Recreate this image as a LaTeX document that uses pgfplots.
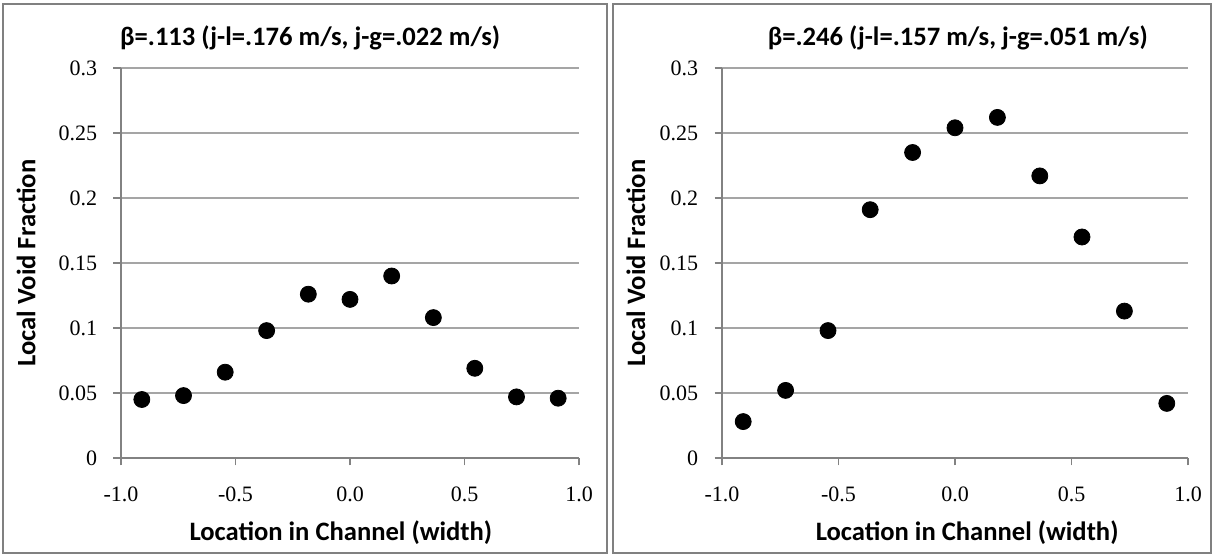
\documentclass[border=0pt]{standalone}
\usepackage{fontspec}
\setmainfont{Carlito}
\newfontfamily\tickfont{Liberation Serif}
\usepackage{pgfplots}
\pgfplotsset{compat=1.18}

\definecolor{gridgray}{RGB}{165,165,165}
\definecolor{axgray}{RGB}{130,130,130}
\definecolor{boxgray}{RGB}{128,128,128}

\pgfplotsset{
  voidax/.style={
    scale only axis,
    anchor=south west,
    height=195pt,
    xmin=-1, xmax=1, ymin=0, ymax=0.3,
    axis lines=left,
    axis line style={-, draw=axgray, line width=0.6pt},
    xtick={-1,-0.5,0,0.5,1},
    xticklabels={-1.0,-0.5,0.0,0.5,1.0},
    ytick={0,0.05,0.1,0.15,0.2,0.25,0.3},
    yticklabels={0,0.05,0.1,0.15,0.2,0.25,0.3},
    tick align=outside,
    major tick length=3.75pt,
    tick style={draw=axgray, line width=0.6pt},
    ymajorgrids,
    grid style={draw=gridgray, line width=0.6pt},
    tick label style={font=\tickfont\fontsize{11}{13}\selectfont, text=black},
    xticklabel style={anchor=north, inner sep=0pt, yshift=-10.5pt},
    yticklabel style={anchor=east, inner sep=0pt, xshift=-8pt},
    every axis title shift=0pt,
    title style={font=\bfseries\fontsize{13.3}{16}\selectfont, anchor=center},
    label style={font=\bfseries\fontsize{13.3}{16}\selectfont, anchor=center},
    clip=false,
  },
  dots/.style={only marks, mark=*, mark size=4pt, mark options={fill=black, draw=black}},
}

\begin{document}
\begin{tikzpicture}
\path[use as bounding box] (0pt,0pt) rectangle (607.5pt,277.5pt);
\draw[boxgray, line width=1pt] (1.5pt,1pt) rectangle (303.5pt,275.5pt);
\draw[boxgray, line width=1pt] (306.5pt,1pt) rectangle (605.5pt,275.5pt);

\begin{axis}[voidax,
  at={(60.5pt,48.5pt)}, width=229pt,
  title={β=.113 (j-l=.176 m/s, j-g=.022 m/s)},
  title style={at={(0.413,1.077)}},
  xlabel={Location in Channel (width)},
  xlabel style={at={(0.480,-0.192)}},
  ylabel={Local Void Fraction},
  ylabel style={at={(-0.207,0.5)}},
]
\addplot[dots] coordinates {
  (-0.909,0.045) (-0.727,0.048) (-0.545,0.066) (-0.364,0.098) (-0.182,0.126)
  (0,0.122) (0.182,0.140) (0.364,0.108) (0.545,0.069) (0.727,0.047) (0.909,0.046)
};
\end{axis}

\begin{axis}[voidax,
  at={(361pt,48.5pt)}, width=233pt,
  title={β=.246 (j-l=.157 m/s, j-g=.051 m/s)},
  title style={at={(0.506,1.077)}},
  xlabel={Location in Channel (width)},
  xlabel style={at={(0.526,-0.192)}},
  ylabel={Local Void Fraction},
  ylabel style={at={(-0.185,0.5)}},
]
\addplot[dots] coordinates {
  (-0.909,0.028) (-0.727,0.052) (-0.545,0.098) (-0.364,0.191) (-0.182,0.235)
  (0,0.254) (0.182,0.262) (0.364,0.217) (0.545,0.170) (0.727,0.113) (0.909,0.042)
};
\end{axis}
\end{tikzpicture}
\end{document}
